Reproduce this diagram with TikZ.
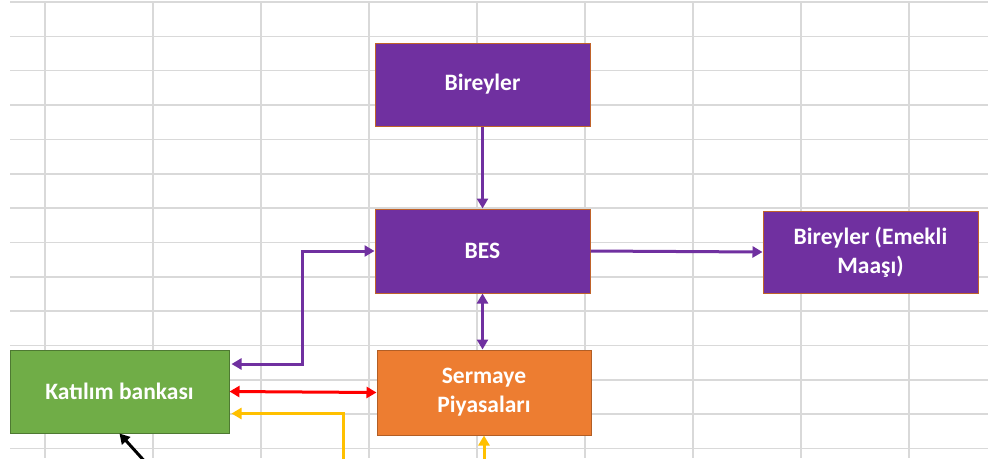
\documentclass[tikz,border=0pt]{standalone}
\usepackage{fontspec}
\setmainfont{Carlito}
\usetikzlibrary{arrows.meta}

\definecolor{mor}{HTML}{7030A0}
\definecolor{yesil}{HTML}{70AD47}
\definecolor{turuncu}{HTML}{ED7D31}
\definecolor{sari}{HTML}{FFC000}
\definecolor{kirmizi}{HTML}{FF0000}
\definecolor{cerceve}{HTML}{C0632A}
\definecolor{izgararenk}{HTML}{D9D9D9}

\begin{document}
\begin{tikzpicture}[x=1pt, y=-1pt,
    kutu/.style={draw=cerceve, line width=1pt, text=white, align=center, inner sep=0pt,
        font=\bfseries\fontsize{23.5}{29}\selectfont},
    izgara/.style={izgararenk, line width=1.5pt},
    ok/.style={line width=3pt, -{Triangle[length=10pt, width=11pt]}},
    ikiok/.style={line width=3pt, {Triangle[length=10pt, width=11pt]}-{Triangle[length=10pt, width=11pt]}}]
                \useasboundingbox (0,0) rectangle (988,458);
                \clip (0,0) rectangle (988,458);
                \fill[white] (0,0) rectangle (988,458);

                \foreach \k in {0,...,13}
                    \draw[izgara] (10,{2+34.35*\k}) -- (988,{2+34.35*\k});
                \foreach \x in {45,153,261,369,477,585,693,801,909}
                    \draw[izgara] (\x,2) -- (\x,458);

                \node[kutu, fill=mor, minimum width=215pt, minimum height=83pt] (bireyler) at (482.5,84.5) {Bireyler};
                \node[kutu, fill=mor, minimum width=215pt, minimum height=84pt] (bes) at (482.5,251) {BES};
                \node[kutu, fill=mor, minimum width=215pt, minimum height=82pt] (emekli) at (870.5,252) {Bireyler (Emekli\\Maaşı)};
                \node[kutu, draw=yesil!70!black, fill=yesil, minimum width=219pt, minimum height=83pt] (katilim) at (119.5,391.5) {Katılım bankası};
                \node[kutu, draw=turuncu!75!black, fill=turuncu, minimum width=214pt, minimum height=85pt] (sermaye) at (484,392.5) {Sermaye\\Piyasaları};

                \coordinate (sarialt1) at (343,470);
                \coordinate (sarialt2) at (484,470);
                \coordinate (siyahalt) at (152.5,470);

                \draw[ok, mor] (bireyler) -- (bes);
                \draw[ok, mor] (bes.east) -- (emekli.west);
                \draw[ikiok, mor] (bes.south) -- (bes.south |- sermaye.north);
                \draw[ikiok, mor, shorten <=2pt] ([yshift=27.5pt]katilim.east) -| ([xshift=-72pt]bes.west) -- (bes.west);
                \draw[ikiok, kirmizi] (katilim.east) -- (sermaye.west);
                \draw[ok, sari, shorten >=2pt] (sarialt1) |- ([yshift=-22pt]katilim.east);
                \draw[ok, sari] (sarialt2) -- (sermaye.south);
                \draw[ok, black] (siyahalt) -- (katilim.south);

            \end{tikzpicture}
\end{document}
